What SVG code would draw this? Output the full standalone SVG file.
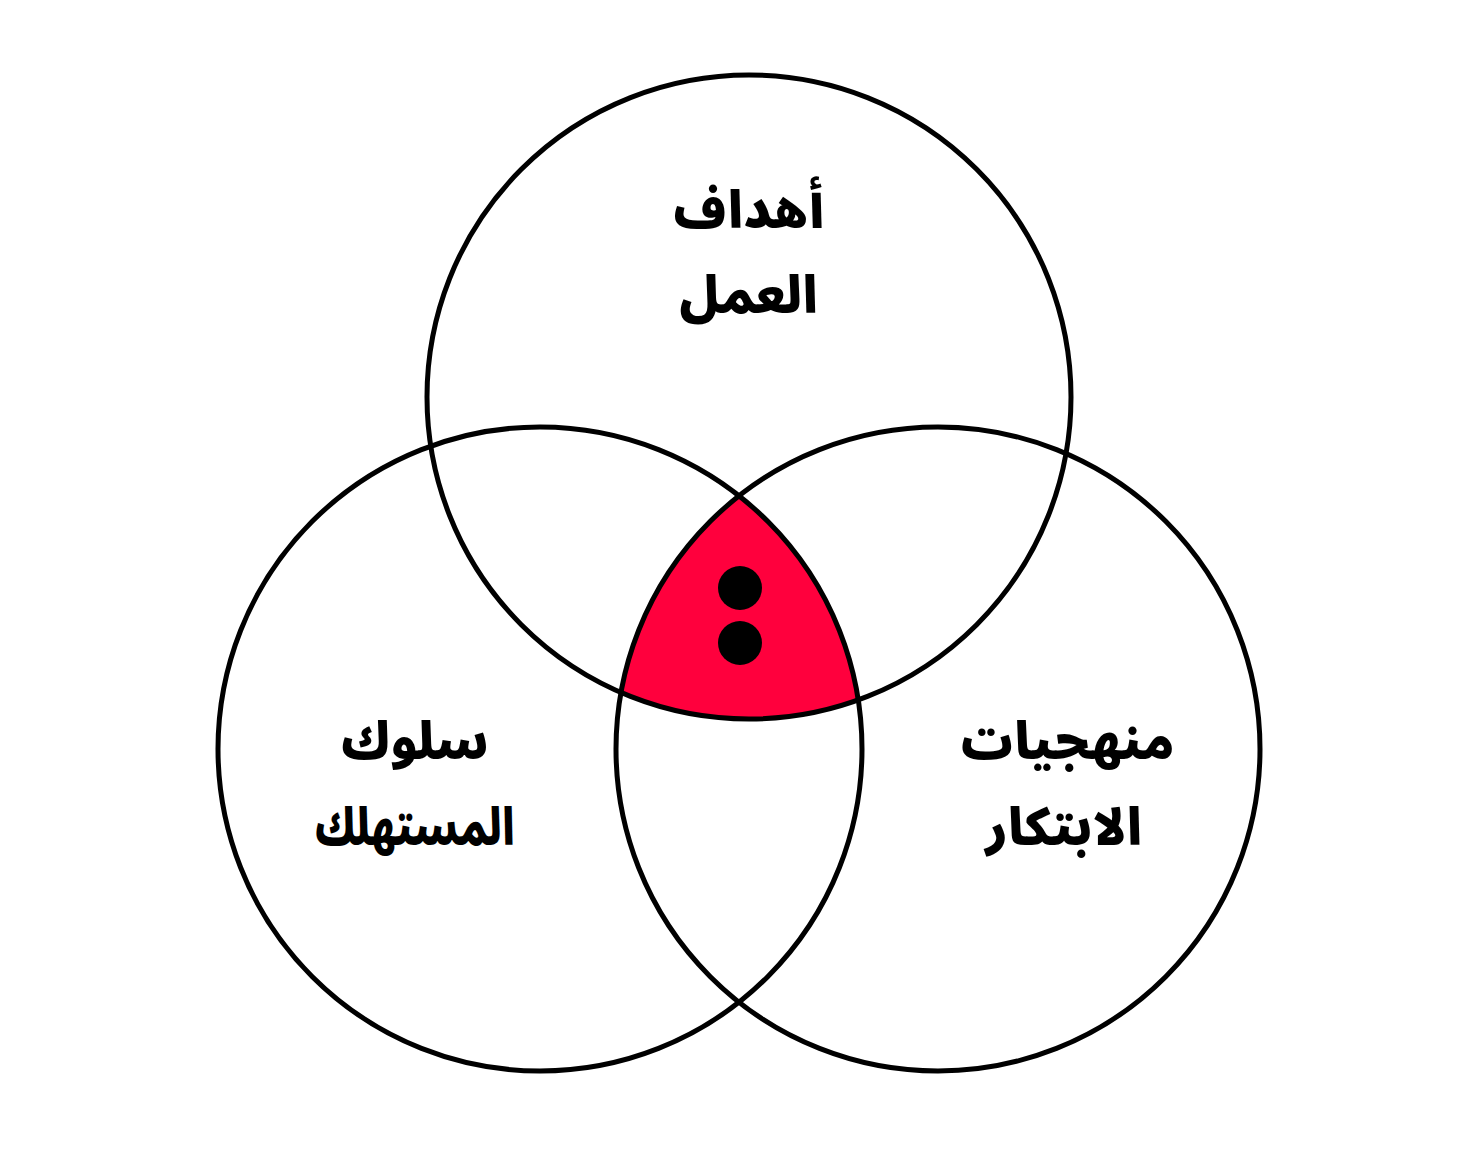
<svg xmlns="http://www.w3.org/2000/svg" width="1477" height="1156" viewBox="0 0 1477 1156">
<style>
.c{fill:none;stroke:#000;stroke-width:5}
.t{font-family:"Noto Sans Arabic","Noto Sans","DejaVu Sans",sans-serif;font-weight:900;font-size:51px;text-anchor:middle;fill:#000}
</style>
<rect width="1477" height="1156" fill="#fff"/>
<g id="center">
<path d="M739 495.9 A322 322 0 0 0 621 692.5 A322 322 0 0 0 858.2 699.9 A322 322 0 0 0 739 495.9 Z" fill="#ff003d"/>
<circle cx="740" cy="588" r="22" fill="#000"/>
<circle cx="740" cy="643" r="22" fill="#000"/>
</g>
<g id="circle-top">
<circle class="c" cx="749" cy="397" r="322"/>
<text class="t" x="749" y="228" direction="rtl">أهداف</text>
<text class="t" x="749" y="313" direction="rtl">العمل</text>
</g>
<g id="circle-left">
<circle class="c" cx="540" cy="749" r="322"/>
<text class="t" x="415" y="759" direction="rtl">سلوك</text>
<text class="t" x="415" y="845" direction="rtl" textLength="200" lengthAdjust="spacingAndGlyphs">المستهلك</text>
</g>
<g id="circle-right">
<circle class="c" cx="938" cy="749" r="322"/>
<text class="t" x="1067" y="759" direction="rtl">منهجيات</text>
<text class="t" x="1064" y="845" direction="rtl">الابتكار</text>
</g>
</svg>
